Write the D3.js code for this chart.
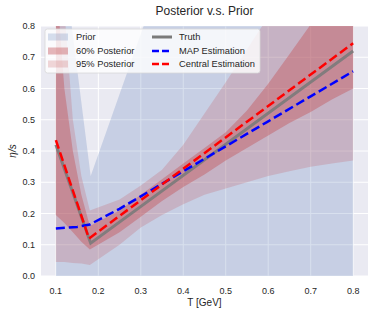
<!DOCTYPE html>
<meta charset="utf-8">
<style>
body { margin: 0; background: #fff; }
text { font-family: "Liberation Sans", Arial, sans-serif; fill: #262626; }
</style>
<svg width="374" height="313"></svg>
<script src="https://d3js.org/d3.v7.min.js"></script>
<script>

// prior band (blue)
var priorT  = [0.1, 0.182, 0.8];
var priorLo = [0, 0, 0];
var priorHi = [1.2, 0.32, 2.7];

// posterior bands, shared temperature grid
var tGrid    = [0.1, 0.12, 0.14, 0.16, 0.18, 0.25, 0.3, 0.35, 0.4, 0.45, 0.5, 0.55, 0.6, 0.65, 0.7, 0.75, 0.8];
var post95Lo = [0.045, 0.045, 0.042, 0.04, 0.035, 0.10, 0.155, 0.195, 0.23, 0.26, 0.28, 0.30, 0.32, 0.335, 0.35, 0.36, 0.37];
var post95Hi = [1.19, 0.85, 0.5, 0.32, 0.21, 0.245, 0.29, 0.34, 0.42, 0.52, 0.62, 0.725, 0.83, 0.93, 1.04, 1.15, 1.26];
var post60Lo = [0.195, 0.17, 0.14, 0.11, 0.085, 0.14, 0.19, 0.24, 0.285, 0.325, 0.37, 0.41, 0.45, 0.49, 0.525, 0.565, 0.60];
var post60Hi = [0.96, 0.6, 0.4, 0.26, 0.16, 0.21, 0.26, 0.31, 0.36, 0.41, 0.46, 0.53, 0.615, 0.71, 0.805, 0.9, 0.99];

// lines
var truthT  = [0.1, 0.182, 0.8];
var truthV  = [0.42, 0.105, 0.72];
var mapT    = [0.1, 0.15, 0.18, 0.25, 0.3, 0.4, 0.5, 0.6, 0.7, 0.8];
var mapV    = [0.152, 0.157, 0.165, 0.215, 0.255, 0.335, 0.415, 0.495, 0.575, 0.655];
var centT   = [0.1, 0.178, 0.8];
var centV   = [0.435, 0.12, 0.745];

var xTicks = [0.1, 0.2, 0.3, 0.4, 0.5, 0.6, 0.7, 0.8];
var yTicks = [0.0, 0.1, 0.2, 0.3, 0.4, 0.5, 0.6, 0.7, 0.8];

var svg = d3.select("svg");
var pLeft = 41, pRight = 368, pTop = 26, pBottom = 276;

var x = d3.scaleLinear().domain([0.065, 0.835]).range([pLeft, pRight]);
var y = d3.scaleLinear().domain([0, 0.8]).range([pBottom, pTop]);

svg.append("rect")
   .attr("x", pLeft).attr("y", pTop)
   .attr("width", pRight - pLeft).attr("height", pBottom - pTop)
   .attr("fill", "#EAEAF2");

// grid
svg.append("g").selectAll("line").data(xTicks).enter().append("line")
   .attr("x1", function(d) { return x(d); }).attr("x2", function(d) { return x(d); })
   .attr("y1", pTop).attr("y2", pBottom)
   .attr("stroke", "#fff").attr("stroke-width", 1);
svg.append("g").selectAll("line").data(yTicks).enter().append("line")
   .attr("y1", function(d) { return y(d); }).attr("y2", function(d) { return y(d); })
   .attr("x1", pLeft).attr("x2", pRight)
   .attr("stroke", "#fff").attr("stroke-width", 1);

svg.append("clipPath").attr("id", "clip")
   .append("rect").attr("x", pLeft).attr("y", pTop)
   .attr("width", pRight - pLeft).attr("height", pBottom - pTop);

var plot = svg.append("g").attr("clip-path", "url(#clip)");

function band(ts, lo, hi) {
  var pts = ts.map(function(t, i) { return {t: t, lo: lo[i], hi: hi[i]}; });
  return d3.area()
    .x(function(d) { return x(d.t); })
    .y0(function(d) { return y(d.lo); })
    .y1(function(d) { return y(d.hi); })(pts);
}
function curve(ts, vs) {
  return d3.line()
    .x(function(d) { return x(d[0]); })
    .y(function(d) { return y(d[1]); })(ts.map(function(t, i) { return [t, vs[i]]; }));
}

var blueFill = "#4C72B0", redFill = "#C44E52";

plot.append("path").attr("d", band(priorT, priorLo, priorHi))
    .attr("fill", blueFill).attr("fill-opacity", 0.22);
plot.append("path").attr("d", band(tGrid, post95Lo, post95Hi))
    .attr("fill", redFill).attr("fill-opacity", 0.22);
plot.append("path").attr("d", band(tGrid, post60Lo, post60Hi))
    .attr("fill", redFill).attr("fill-opacity", 0.4);

plot.append("path").attr("d", curve(truthT, truthV))
    .attr("fill", "none").attr("stroke", "#7a7a7a").attr("stroke-opacity", 0.9)
    .attr("stroke-width", 3);
plot.append("path").attr("d", curve(mapT, mapV))
    .attr("fill", "none").attr("stroke", "#0000ff")
    .attr("stroke-width", 2.5).attr("stroke-dasharray", "9,4");
plot.append("path").attr("d", curve(centT, centV))
    .attr("fill", "none").attr("stroke", "#ff0000")
    .attr("stroke-width", 2.5).attr("stroke-dasharray", "9,4");

// tick labels
svg.append("g").selectAll("text").data(xTicks).enter().append("text")
   .attr("x", function(d) { return x(d); }).attr("y", 294)
   .attr("text-anchor", "middle").attr("font-size", "9px").attr("fill", "#3a3a3a")
   .text(function(d) { return d.toFixed(1); });
svg.append("g").selectAll("text").data(yTicks).enter().append("text")
   .attr("x", 35).attr("y", function(d) { return y(d) + 3.2; })
   .attr("text-anchor", "end").attr("font-size", "9px").attr("fill", "#3a3a3a")
   .text(function(d) { return d.toFixed(1); });

svg.append("text").attr("x", (pLeft + pRight) / 2).attr("y", 306)
   .attr("text-anchor", "middle").attr("font-size", "10px").text("T [GeV]");
svg.append("text").attr("transform", "translate(16," + ((pTop + pBottom) / 2) + ") rotate(-90)")
   .attr("text-anchor", "middle").attr("font-size", "10px").attr("font-style", "italic").text("η/s");
svg.append("text").attr("x", (pLeft + pRight) / 2).attr("y", 15)
   .attr("text-anchor", "middle").attr("font-size", "12px").text("Posterior v.s. Prior");

// legend
var legend = svg.append("g");
legend.append("rect").attr("x", 45).attr("y", 29).attr("width", 215).attr("height", 44)
   .attr("rx", 2.5).attr("fill", "#fff").attr("fill-opacity", 0.8)
   .attr("stroke", "#d8d8d8").attr("stroke-width", 0.8);

var patches = [
  {label: "Prior", color: blueFill, op: 0.22},
  {label: "60% Posterior", color: redFill, op: 0.4},
  {label: "95% Posterior", color: redFill, op: 0.22}
];
var lines = [
  {label: "Truth", color: "#7a7a7a", dash: null, w: 3},
  {label: "MAP Estimation", color: "#0000ff", dash: "7,3", w: 2.5},
  {label: "Central Estimation", color: "#ff0000", dash: "7,3", w: 2.5}
];
var rowY = [37, 51, 64];

patches.forEach(function(p, i) {
  legend.append("rect").attr("x", 48).attr("y", rowY[i] - 3.5).attr("width", 20).attr("height", 7)
    .attr("fill", p.color).attr("fill-opacity", p.op);
  legend.append("text").attr("x", 76).attr("y", rowY[i] + 3.3).attr("font-size", "9.3px").text(p.label);
});
lines.forEach(function(l, i) {
  legend.append("line").attr("x1", 152).attr("x2", 172).attr("y1", rowY[i]).attr("y2", rowY[i])
    .attr("stroke", l.color).attr("stroke-width", l.w)
    .attr("stroke-dasharray", l.dash);
  legend.append("text").attr("x", 179).attr("y", rowY[i] + 3.3).attr("font-size", "9.3px").text(l.label);
});

</script>
